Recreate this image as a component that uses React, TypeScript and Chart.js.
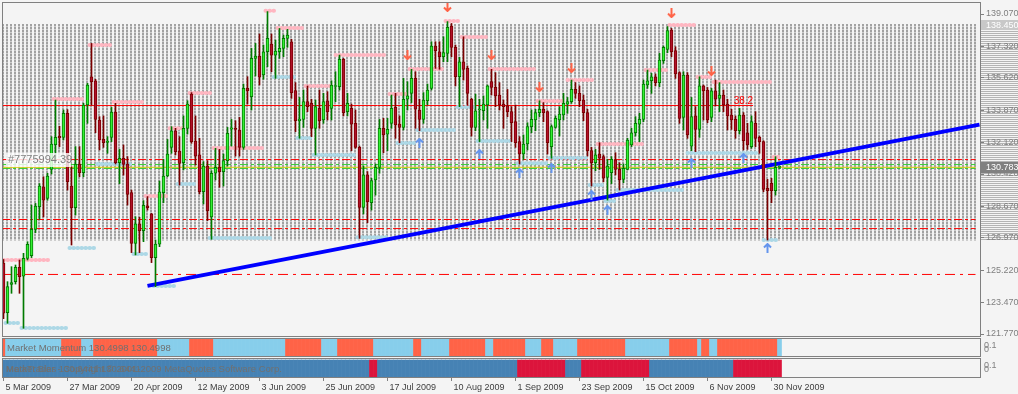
import React, { useEffect, useRef } from 'react';
import { Chart, registerables } from 'chart.js';

Chart.register(...registerables);

const FONT = '"Liberation Sans", Arial, sans-serif';

// ---- axis labels ----
const dateLabels = ['5 Mar 2009', '27 Mar 2009', '20 Apr 2009', '12 May 2009', '3 Jun 2009', '25 Jun 2009', '17 Jul 2009', '10 Aug 2009', '1 Sep 2009', '23 Sep 2009', '15 Oct 2009', '6 Nov 2009', '30 Nov 2009'];
const dateLabelBars = [0, 16, 32, 48, 64, 80, 96, 112, 128, 144, 160, 176, 192];
const priceTicks = [139.07, 137.32, 135.62, 133.87, 132.12, 130.42, 128.67, 126.97, 125.22, 123.47, 121.77];

// ---- daily candles (EURJPY, 5 Mar 2009 .. 2 Dec 2009) ----
const opens = [
  125.6, 122.92, 124.45, 124.6, 125.37, 124.9, 125.86, 126.0, 127.43, 128.65,
  129.72, 129.1, 130.67, 132.0, 132.45, 132.4, 133.7, 129.77, 128.6, 130.96,
  130.49, 134.15, 135.68, 135.46, 133.34, 132.3, 132.13, 132.4, 133.77, 131.03,
  131.27, 130.96, 129.41, 126.67, 127.72, 127.36, 128.7, 128.26, 125.9, 126.62,
  129.41, 130.31, 131.86, 132.76, 131.66, 131.03, 132.89, 134.74, 132.2, 131.45,
  129.46, 130.85, 128.1, 130.46, 130.78, 130.55, 131.14, 132.85, 132.87, 132.8,
  131.86, 135.05, 134.6, 136.67, 136.8, 135.77, 137.03, 137.45, 136.85, 137.03,
  137.21, 137.75, 137.57, 134.93, 133.3, 133.37, 134.33, 134.24, 132.89, 133.97,
  133.34, 134.38, 133.97, 135.15, 135.14, 136.62, 133.79, 133.97, 133.16, 131.86,
  128.62, 130.37, 128.87, 130.1, 130.78, 132.89, 132.58, 133.16, 134.02, 133.12,
  132.94, 134.46, 134.78, 135.59, 133.88, 133.37, 134.38, 135.05, 137.34, 137.03,
  136.76, 136.94, 138.42, 137.27, 135.68, 136.49, 136.13, 134.46, 132.94, 133.88,
  133.84, 134.15, 135.41, 135.1, 134.69, 134.2, 134.1, 133.79, 133.25, 132.17,
  131.5, 132.04, 132.98, 133.34, 133.74, 133.92, 133.79, 131.9, 132.94, 133.34,
  133.61, 134.2, 134.33, 135.0, 134.78, 134.42, 133.74, 131.68, 131.03, 131.5,
  131.36, 130.24, 130.49, 131.18, 130.67, 130.13, 130.67, 131.99, 132.65, 133.12,
  133.37, 135.23, 135.46, 135.68, 135.36, 136.55, 137.16, 138.2, 137.09, 135.9,
  133.48, 135.77, 131.93, 133.56, 132.83, 135.18, 134.96, 133.48, 134.92, 134.51,
  134.69, 134.2, 133.61, 133.37, 132.76, 133.61, 132.65, 131.9, 133.16, 132.4,
  132.17, 129.64, 129.91, 129.52, 130.78,
];
const highs = [
  125.8, 124.6, 125.41, 125.5, 125.77, 126.13, 126.76, 128.74, 128.83, 129.9,
  130.27, 130.46, 132.44, 134.42, 133.0, 133.88, 133.9, 130.8, 131.9, 131.9,
  134.24, 135.32, 137.48, 135.54, 133.52, 133.56, 132.44, 134.02, 134.24, 131.75,
  131.99, 131.36, 129.55, 128.11, 128.08, 128.98, 129.2, 128.29, 126.85, 130.04,
  131.21, 132.29, 132.98, 132.89, 132.44, 133.56, 134.38, 134.82, 133.56, 132.35,
  131.09, 131.14, 130.6, 131.81, 131.75, 131.5, 132.94, 133.37, 133.3, 133.48,
  135.28, 135.68, 137.21, 137.48, 137.99, 137.39, 139.2, 137.99, 137.66, 138.29,
  137.93, 138.24, 137.7, 135.36, 134.56, 134.96, 135.18, 134.46, 134.42, 134.96,
  134.78, 134.87, 135.46, 135.95, 136.85, 136.67, 134.78, 134.2, 133.88, 131.93,
  130.85, 130.55, 130.19, 130.96, 133.37, 133.43, 133.43, 134.69, 134.78, 133.56,
  135.59, 135.41, 136.08, 135.95, 134.46, 134.82, 135.28, 137.57, 137.57, 137.57,
  137.84, 138.66, 138.56, 137.39, 136.73, 137.84, 136.26, 134.51, 134.74, 134.46,
  134.64, 135.23, 136.08, 135.9, 135.36, 134.42, 134.99, 134.06, 134.15, 132.44,
  132.53, 133.19, 133.88, 133.92, 134.38, 134.28, 133.84, 133.07, 133.56, 134.06,
  134.78, 134.56, 135.5, 135.36, 135.18, 134.69, 133.92, 131.86, 131.75, 132.11,
  131.45, 131.21, 131.36, 131.57, 131.03, 130.96, 132.35, 132.89, 133.52, 133.7,
  135.5, 136.04, 135.86, 135.83, 136.94, 137.34, 138.39, 138.29, 137.3, 135.95,
  135.95, 135.9, 134.56, 134.06, 135.68, 135.23, 135.1, 135.05, 135.5, 135.36,
  134.96, 134.46, 133.92, 133.56, 133.97, 133.74, 133.16, 133.56, 133.79, 132.47,
  132.22, 130.13, 130.19, 131.36, 130.85,
];
const lows = [
  122.6, 122.35, 123.97, 124.47, 123.97, 122.08, 125.77, 125.9, 127.25, 127.97,
  128.1, 129.0, 130.42, 131.09, 131.9, 132.26, 129.55, 126.58, 128.2, 130.27,
  130.27, 133.16, 134.15, 132.65, 131.72, 131.86, 131.54, 132.17, 130.96, 129.9,
  130.36, 128.74, 126.17, 126.04, 126.17, 126.76, 128.47, 125.63, 124.33, 126.49,
  128.87, 130.27, 131.54, 131.45, 129.82, 130.64, 132.58, 132.08, 130.91, 129.34,
  128.8, 127.9, 126.89, 130.1, 129.7, 129.77, 130.85, 131.93, 131.39, 131.39,
  131.75, 134.2, 133.88, 135.72, 135.23, 135.54, 136.22, 135.95, 135.59, 136.67,
  136.76, 137.27, 134.51, 132.71, 132.35, 132.94, 133.79, 132.44, 131.45, 132.89,
  133.16, 133.34, 133.34, 134.33, 134.96, 133.56, 133.56, 131.68, 131.81, 126.94,
  128.26, 127.79, 128.47, 129.28, 130.46, 131.57, 131.68, 132.89, 132.35, 132.11,
  132.8, 133.88, 134.28, 132.89, 132.76, 133.16, 134.15, 134.96, 136.13, 136.08,
  136.49, 136.49, 136.76, 135.18, 134.06, 135.5, 134.15, 132.47, 132.76, 132.17,
  133.34, 132.89, 134.69, 134.06, 133.88, 132.89, 133.52, 132.17, 131.86, 130.96,
  131.21, 131.72, 132.65, 132.76, 133.52, 133.25, 131.5, 131.27, 132.89, 132.47,
  133.34, 133.7, 134.24, 134.51, 134.06, 133.3, 131.39, 129.77, 130.6, 130.67,
  130.0, 129.01, 129.9, 130.37, 129.55, 129.95, 130.64, 131.9, 132.47, 132.17,
  133.25, 135.05, 134.78, 135.18, 135.14, 136.4, 136.98, 136.76, 135.59, 133.16,
  132.8, 132.35, 131.68, 131.63, 132.4, 133.34, 133.19, 133.25, 134.1, 133.79,
  133.79, 132.8, 132.83, 132.35, 132.58, 131.72, 131.75, 131.81, 131.9, 131.54,
  129.46, 126.85, 128.87, 129.28, 130.72,
];
const closes = [
  122.9, 124.33, 124.55, 125.37, 124.87, 125.86, 126.62, 127.43, 128.69, 129.77,
  129.01, 130.31, 132.04, 132.4, 132.38, 133.7, 130.0, 128.6, 130.96, 130.49,
  134.15, 135.23, 135.41, 133.37, 132.26, 132.11, 132.2, 133.77, 131.03, 131.27,
  130.94, 129.32, 126.67, 127.72, 127.36, 128.72, 128.6, 125.9, 126.63, 129.45,
  130.31, 131.5, 132.76, 131.63, 130.99, 132.89, 134.2, 132.17, 131.39, 129.46,
  130.85, 128.44, 130.46, 130.78, 130.55, 131.14, 132.62, 132.92, 132.83, 131.86,
  135.05, 134.93, 136.67, 136.8, 135.65, 137.03, 137.75, 136.85, 137.07, 137.21,
  137.75, 137.93, 134.82, 133.3, 133.39, 134.33, 134.06, 132.89, 134.06, 133.3,
  134.33, 133.79, 135.23, 135.19, 136.62, 133.74, 134.24, 133.12, 131.86, 128.62,
  130.37, 128.92, 130.06, 130.78, 132.89, 132.53, 132.83, 133.97, 133.07, 132.94,
  134.46, 134.64, 135.59, 133.92, 133.37, 134.42, 134.96, 137.34, 137.09, 136.76,
  136.98, 138.35, 137.27, 135.68, 136.49, 136.08, 134.78, 132.94, 133.84, 133.9,
  134.2, 135.18, 135.1, 134.64, 134.15, 134.06, 133.79, 133.19, 132.11, 131.5,
  132.04, 132.98, 133.37, 133.74, 133.92, 133.74, 132.11, 132.98, 133.43, 133.66,
  134.24, 134.33, 135.0, 134.78, 134.38, 133.74, 131.68, 131.03, 131.45, 131.27,
  130.19, 130.85, 131.21, 130.67, 130.1, 130.73, 132.26, 132.65, 133.16, 133.37,
  135.28, 135.46, 135.68, 135.36, 136.58, 137.27, 138.17, 137.03, 135.83, 133.43,
  135.77, 132.53, 133.52, 132.83, 135.18, 134.92, 133.34, 134.92, 134.46, 134.69,
  134.15, 133.56, 133.34, 132.76, 133.61, 132.22, 131.99, 133.25, 132.35, 132.17,
  129.59, 129.52, 129.52, 130.78, 130.783,
];

// ---- fractal levels: [fromBar, toBar, price] ----
const resistanceLevels = [
  [0, 12, 125.77], [12.5, 20, 134.47], [21.5, 27, 137.39], [27.5, 35, 134.31], [35.5, 41, 129.23],
  [41.5, 45, 132.9], [46.5, 52, 134.8], [52.5, 65, 131.83], [65.5, 68, 139.25], [68.5, 75, 138.31],
  [75.5, 82, 135.18], [83, 96, 136.85], [96.5, 101, 134.75], [101.5, 110, 136.1], [110.5, 114, 138.69],
  [114.5, 121, 137.83], [121.5, 133, 136.1], [133.5, 140, 134.37], [141, 148, 135.5], [148.5, 160, 132.04],
  [160.5, 166, 136.04], [166.5, 173, 138.48], [173.5, 177, 135.66], [177.5, 192, 135.39], [192.5, 194, 131.34],
];
const supportLevels = [
  [0.5, 4, 122.36], [4.5, 16, 122.09], [16.5, 23, 126.42], [23.5, 32, 130.96], [32.5, 36, 126.1],
  [37.5, 43, 124.37], [43.5, 48, 129.88], [51.5, 67, 126.96], [67.5, 73, 135.66], [73.5, 77, 132.37],
  [77.5, 88, 131.45], [88.5, 96, 127.0], [98.5, 103, 132.1], [103.5, 113, 132.8], [113.5, 118, 134.04],
  [118.5, 127, 132.2], [128.5, 136, 131.0], [136.5, 146, 131.28], [146.5, 150, 129.83], [150.5, 153, 128.96],
  [153.5, 170, 129.56], [171, 189, 131.56], [190, 194, 126.85],
];
// ---- arrow signals: [bar, price] ----
const sellArrows = [[101, 136.85], [111, 139.45], [122, 136.85], [134, 135.12], [142, 136.15], [167, 139.12], [177, 135.99]];
const buyArrows = [[104, 132.1], [119, 131.5], [129, 130.47], [137, 130.74], [147, 129.28], [151, 128.47], [172, 131.02], [185, 131.29], [191, 126.42]];

// ---- horizontal levels ----
const fiboLevel = 134.12;
const fiboLabel = '38.2';
const fiboEndBar = 187.4;
const redDashLevels = [131.2, 127.96, 127.47];
const greenDashLevels = [130.93, 130.72];
const dashDotLevel = 124.99;
const bidPrice = 130.783;
const askBoxPrice = 138.45;
const zoneTop = 138.45;
const zoneBottom = 126.85;
const trendBars = [36, 244];
const trendPrices = [124.37, 133.09];

// ---- indicator panels: [fromBar, toBar, state] ----
const momentumRuns = [
  [0, 0, 0], [1, 14, 1], [15, 19, 0], [20, 22, 1], [23, 38, 0], [39, 46, 1], [47, 52, 0], [53, 70, 1],
  [71, 79, 0], [80, 83, 1], [84, 92, 0], [93, 102, 1], [103, 104, 0], [105, 111, 1], [112, 120, 0],
  [121, 122, 1], [123, 130, 0], [131, 134, 1], [135, 137, 0], [138, 143, 1], [144, 155, 0], [156, 166, 1],
  [167, 173, 0], [174, 174, 1], [175, 176, 0], [177, 178, 1], [179, 193, 0], [194, 194, 1],
];
const biasRuns = [
  [0, 91, 1], [92, 93, 0], [94, 128, 1], [129, 140, 0], [141, 144, 1], [145, 161, 0], [162, 182, 1], [183, 194, 0],
];
const momentumText = 'Market Momentum 130.4998 130.4998';
const biasText = 'Market Bias 130.6441 130.6441';
const copyrightText = 'MetaTrader - Copyright \u00a9 2001-2009 MetaQuotes Software Corp.';
const objectText = '#7775994.39';

function makeArrow(color: string, down: boolean) {
  const c = document.createElement('canvas');
  c.width = 9; c.height = 10;
  const g = c.getContext('2d')!;
  g.strokeStyle = color; g.lineWidth = 2; g.lineCap = 'butt';
  g.beginPath();
  if (down) {
    g.moveTo(4.5, 0); g.lineTo(4.5, 9);
    g.moveTo(1, 5.5); g.lineTo(4.5, 9); g.lineTo(8, 5.5);
  } else {
    g.moveTo(4.5, 10); g.lineTo(4.5, 1);
    g.moveTo(1, 4.5); g.lineTo(4.5, 1); g.lineTo(8, 4.5);
  }
  g.stroke();
  return c;
}

function segData(segs: number[][]) {
  const out: any[] = [];
  segs.forEach(([a, b, p]) => {
    out.push({ x: a, y: p }, { x: b, y: p }, { x: b + 0.01, y: null });
  });
  return out;
}

const noPad = (s: any, w?: number) => {
  if (w !== undefined) s.width = w;
  s.paddingTop = 0; s.paddingBottom = 0; s.paddingLeft = 0; s.paddingRight = 0;
};

export default function App() {
  const ref = useRef<HTMLCanvasElement>(null);
  useEffect(() => {
    document.body.style.margin = '0';
    document.body.style.background = '#f4f4f4';
    const canvas = ref.current!;
    const idx = opens.map((_, i) => i);
    const up = idx.map((i) => closes[i] >= opens[i]);
    const momColor = (s: number) => (s ? '#87ceeb' : '#ff6347');
    const biasColor = (s: number) => (s ? '#4682b4' : '#dc143c');
    const momData: any[] = []; const momCols: string[] = [];
    momentumRuns.forEach(([a, b, s]) => { for (let i = a; i <= b; i++) { momData.push({ x: i, y: [0, 1] }); momCols.push(momColor(s)); } });
    const biasData: any[] = []; const biasCols: string[] = [];
    biasRuns.forEach(([a, b, s]) => { for (let i = a; i <= b; i++) { biasData.push({ x: i, y: [0, 1] }); biasCols.push(biasColor(s)); } });

    const hline = (p: number, color: string, dash: number[], x1 = 243) => ({
      type: 'line', data: [{ x: -0.375, y: p }, { x: x1, y: p }], borderColor: color, borderWidth: 1,
      borderDash: dash, pointRadius: 0, yAxisID: 'y', order: 6,
    });

    const decor = {
      id: 'decor',
      beforeDraw(chart: any) {
        const { ctx } = chart;
        const y = chart.scales.y;
        ctx.save();
        ctx.fillStyle = '#f4f4f4';
        ctx.fillRect(0, 0, chart.width, chart.height);
        const t = Math.round(y.getPixelForValue(zoneTop)) - 4;
        const b = Math.round(y.getPixelForValue(zoneBottom));
        ctx.fillStyle = '#b4b4b4';
        for (let yy = t; yy <= b; yy += 2) ctx.fillRect(981, yy, 37, 1);
        ctx.restore();
      },
      beforeDatasetsDraw(chart: any) {
        const { ctx } = chart;
        const y = chart.scales.y;
        const x = chart.scales.x;
        const t = Math.round(y.getPixelForValue(zoneTop));
        const b = Math.round(y.getPixelForValue(zoneBottom));
        const x0 = x.getPixelForValue(-0.375);
        const x1 = x.getPixelForValue(243.5);
        ctx.save();
        // light column body
        ctx.fillStyle = '#cdcdcd';
        for (let xx = x0; xx < x1; xx += 4) ctx.fillRect(xx, t - 1, 2, b - t + 2);
        // darker dotted level lines
        ctx.strokeStyle = '#a2a2a2';
        ctx.lineWidth = 2;
        ctx.setLineDash([2, 2]);
        for (let yy = t; yy <= b; yy += 3) {
          ctx.beginPath(); ctx.moveTo(x0, yy); ctx.lineTo(x1, yy); ctx.stroke();
        }
        ctx.restore();
      },
      afterDraw(chart: any) {
        const { ctx } = chart;
        const y = chart.scales.y;
        const x = chart.scales.x;
        ctx.save();
        ctx.strokeStyle = '#808080';
        ctx.lineWidth = 1;
        ctx.strokeRect(2.5, 2.5, 978, 334);
        ctx.strokeRect(2.5, 338.5, 978, 18);
        ctx.strokeRect(2.5, 358.5, 978, 19);
        ctx.font = `9px ${FONT}`;
        ctx.textBaseline = 'middle';
        ctx.textAlign = 'left';
        const ay = y.getPixelForValue(askBoxPrice);
        ctx.fillStyle = '#c8c8c8';
        ctx.fillRect(981, Math.round(ay) - 5, 37, 10);
        ctx.fillStyle = '#ffffff';
        ctx.fillText(askBoxPrice.toFixed(3), 986, ay);
        const by = y.getPixelForValue(bidPrice);
        ctx.fillStyle = '#808080';
        ctx.fillRect(981, Math.round(by) - 5, 37, 11);
        ctx.fillStyle = '#ffffff';
        ctx.fillText(bidPrice.toFixed(3), 986, by);
        ctx.font = `10px ${FONT}`;
        ctx.fillStyle = '#ff0000';
        ctx.textAlign = 'right';
        ctx.textBaseline = 'alphabetic';
        ctx.fillText(fiboLabel, x.getPixelForValue(fiboEndBar), y.getPixelForValue(fiboLevel) - 2);
        ctx.fillStyle = 'rgba(255,255,255,0.8)';
        ctx.fillRect(6, 153, 65, 14);
        ctx.font = `11px ${FONT}`;
        ctx.fillStyle = '#808080';
        ctx.textAlign = 'left';
        ctx.textBaseline = 'middle';
        ctx.fillText(objectText, 8, 160);
        ctx.font = `9.5px ${FONT}`;
        ctx.fillStyle = '#707070';
        ctx.fillText(momentumText, 7, 348);
        ctx.fillText(biasText, 6, 369);
        ctx.fillText(copyrightText, 6, 369);
        ctx.font = `9px ${FONT}`;
        ctx.fillStyle = '#808080';
        ctx.fillText('0.1', 984, 346);
        ctx.fillText('0', 984, 350);
        ctx.fillText('0.1', 984, 366);
        ctx.fillText('0', 984, 370);
        ctx.restore();
      },
    };

    const chart = new Chart(canvas, {
      type: 'bar',
      data: {
        datasets: [
          { type: 'scatter', data: sellArrows.map(([b, p]) => ({ x: b, y: p })), pointStyle: makeArrow('#ff6347', true) as any, yAxisID: 'y', order: 0 } as any,
          { type: 'scatter', data: buyArrows.map(([b, p]) => ({ x: b, y: p })), pointStyle: makeArrow('#6495ed', false) as any, yAxisID: 'y', order: 0 } as any,
          {
            type: 'bar', data: idx.map((i) => ({ x: i, y: [opens[i], closes[i]] })),
            backgroundColor: up.map((u) => (u ? '#32f032' : '#b0102a')),
            borderColor: up.map((u) => (u ? '#007a00' : '#7a0000')),
            borderWidth: 1, borderSkipped: false, barThickness: 3, grouped: false, minBarLength: 1, yAxisID: 'y', order: 1,
          },
          {
            type: 'bar', data: idx.map((i) => ({ x: i, y: [lows[i], highs[i]] })),
            backgroundColor: up.map((u) => (u ? '#007a00' : '#7a0000')),
            borderWidth: 0, barThickness: 1, grouped: false, yAxisID: 'y', order: 2,
          },
          {
            type: 'line', data: trendBars.map((b, i) => ({ x: b, y: trendPrices[i] })), borderColor: '#0000ff', borderWidth: 4,
            pointRadius: 0, yAxisID: 'y', order: 3,
          },
          {
            type: 'line', data: segData(resistanceLevels), borderColor: '#ffb6c1', borderWidth: 4, borderCapStyle: 'round',
            borderDash: [0.5, 3.5], pointRadius: 0, spanGaps: false, yAxisID: 'y', order: 4,
          },
          {
            type: 'line', data: segData(supportLevels), borderColor: '#add8e6', borderWidth: 4, borderCapStyle: 'round',
            borderDash: [0.5, 3.5], pointRadius: 0, spanGaps: false, yAxisID: 'y', order: 4,
          },
          hline(fiboLevel, '#ff0000', [], fiboEndBar),
          ...redDashLevels.map((p) => hline(p, '#ff0000', [8, 3, 3, 3])),
          ...greenDashLevels.map((p) => hline(p, '#32cd32', [8, 3, 3, 3])),
          hline(bidPrice, '#d8c800', []),
          hline(dashDotLevel, '#ff0000', [10, 5, 3, 5]),
          { type: 'bar', data: momData, backgroundColor: momCols, borderWidth: 0, barThickness: 4, grouped: false, yAxisID: 'yM', order: 7 },
          { type: 'bar', data: biasData, backgroundColor: biasCols, borderWidth: 0, barThickness: 4, grouped: false, yAxisID: 'yB', order: 7 },
        ] as any,
      },
      options: {
        responsive: false,
        animation: false,
        events: [],
        layout: { padding: { left: 2, top: 2, right: 0, bottom: 0 }, autoPadding: false },
        plugins: { legend: { display: false }, tooltip: { enabled: false }, title: { display: false } },
        scales: {
          x: {
            type: 'linear', position: 'bottom', min: -0.375, max: 244.125, offset: false,
            afterBuildTicks: (s: any) => { s.ticks = dateLabelBars.map((v) => ({ value: v })); },
            afterFit: (s: any) => { s.height = 17; s.paddingLeft = 0; s.paddingRight = 0; },
            grid: { drawOnChartArea: false, drawTicks: true, tickLength: 4, color: '#808080', offset: false },
            border: { display: false },
            ticks: {
              autoSkip: false, maxRotation: 0, minRotation: 0, align: 'start', padding: 1, labelOffset: 2,
              color: '#404040', font: { family: FONT, size: 9 },
              callback: (_v: any, i: number) => dateLabels[i] ?? '',
            },
          },
          y: {
            type: 'linear', position: 'right', stack: 'right', stackWeight: 334,
            min: 121.6619, max: 139.7188,
            afterBuildTicks: (s: any) => { s.ticks = priceTicks.map((v) => ({ value: v })); },
            afterFit: (s: any) => noPad(s, 38),
            grid: { drawOnChartArea: false, drawTicks: true, tickLength: 4, color: '#808080' },
            border: { display: false },
            ticks: { autoSkip: false, padding: 2, color: '#808080', font: { family: FONT, size: 9 }, callback: (v: any) => Number(v).toFixed(3) },
          },
          yM: {
            type: 'linear', position: 'right', stack: 'right', stackWeight: 21, min: -0.0588, max: 1.1765,
            afterFit: (s: any) => noPad(s, 38),
            grid: { display: false }, border: { display: false }, ticks: { display: false },
          },
          yB: {
            type: 'linear', position: 'right', stack: 'right', stackWeight: 20, min: 0, max: 1.1765,
            afterFit: (s: any) => noPad(s, 38),
            grid: { display: false }, border: { display: false }, ticks: { display: false },
          },
        },
      } as any,
      plugins: [decor],
    });
    return () => chart.destroy();
  }, []);
  return (
    <div style={{ width: 1018, height: 394, position: 'relative' }}>
      <canvas ref={ref} width={1018} height={394} style={{ display: 'block' }} />
    </div>
  );
}
